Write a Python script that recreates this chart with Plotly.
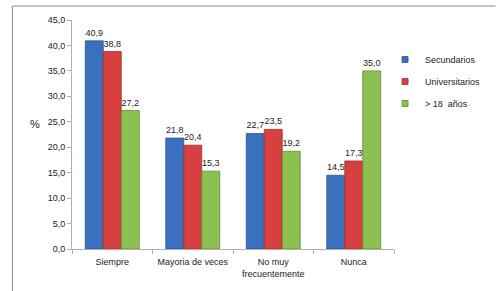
import plotly.graph_objects as go

categories = ["Siempre", "Mayoria de veces", "No muy<br>frecuentemente", "Nunca"]
series_names = ["Secundarios", "Universitarios", "> 18  años"]
secundarios = [40.9, 21.8, 22.7, 14.5]
universitarios = [38.8, 20.4, 23.5, 17.3]
mayores18 = [27.2, 15.3, 19.2, 35.0]
y_ticks = [0, 5, 10, 15, 20, 25, 30, 35, 40, 45]

colors = ["#3B70BF", "#D7403E", "#8CC152"]
edge = ["#2A5590", "#9E2E2C", "#5F8B34"]

fig = go.Figure()
for i, (name, vals) in enumerate(zip(series_names, [secundarios, universitarios, mayores18])):
    fig.add_trace(go.Bar(
        x=categories, y=vals, name=name,
        marker=dict(color=colors[i], line=dict(color=edge[i], width=0.8)),
        text=vals, texttemplate="%{y:.1f}", textposition="outside",
        textfont=dict(size=9, color="#222"), cliponaxis=False,
        showlegend=False,
    ))
for i, name in enumerate(series_names):
    fig.add_trace(go.Scatter(
        x=[None], y=[None], mode="markers", name=name, legendgroup=name,
        marker=dict(symbol="square", size=6, color=colors[i], line=dict(color=edge[i], width=0.8)),
    ))

L, R, T, B = 72, 102, 20, 42
W, H = 498, 291
pw, ph = W - L - R, H - T - B

def px(x):
    return (x - L) / pw

def py(y):
    return (H - B - y) / ph

fig.update_layout(
    width=W, height=H,
    margin=dict(l=L, r=R, t=T, b=B),
    paper_bgcolor="white", plot_bgcolor="white",
    separators=",.",
    font=dict(family="Liberation Sans, Arial, sans-serif", size=9, color="#222"),
    barmode="group", bargap=0.33, bargroupgap=0.0,
    showlegend=True,
    legend=dict(x=px(387), y=py(45), xanchor="left", yanchor="top",
                font=dict(size=9), tracegroupgap=3, itemwidth=30,
                bgcolor="rgba(0,0,0,0)"),
    xaxis=dict(showline=True, linecolor="#B0B0B0", linewidth=1,
               ticks="outside", tickcolor="#B0B0B0", ticklen=4,
               tickson="boundaries", tickfont=dict(size=9), tickangle=0,
               ticklabelstandoff=4),
    yaxis=dict(range=[0, 45], tickvals=y_ticks, tickformat=".1f",
               showline=True, linecolor="#B0B0B0", linewidth=1,
               ticks="outside", tickcolor="#B0B0B0", ticklen=4,
               showgrid=False, zeroline=False, tickfont=dict(size=9)),
    annotations=[dict(text="%", xref="paper", yref="paper", x=px(35), y=py(124),
                      showarrow=False, font=dict(size=11), xanchor="center", yanchor="middle")],
    shapes=[
        dict(type="line", xref="paper", yref="paper", x0=px(12), x1=px(498), y0=py(6), y1=py(6),
             line=dict(color="#888", width=1)),
        dict(type="line", xref="paper", yref="paper", x0=px(12), x1=px(12), y0=py(6), y1=py(291),
             line=dict(color="#888", width=1)),
    ],
)

fig.write_html("out.html", config={"displayModeBar": False},
               post_script="document.body.style.margin='0px';document.body.style.overflow='hidden';")
